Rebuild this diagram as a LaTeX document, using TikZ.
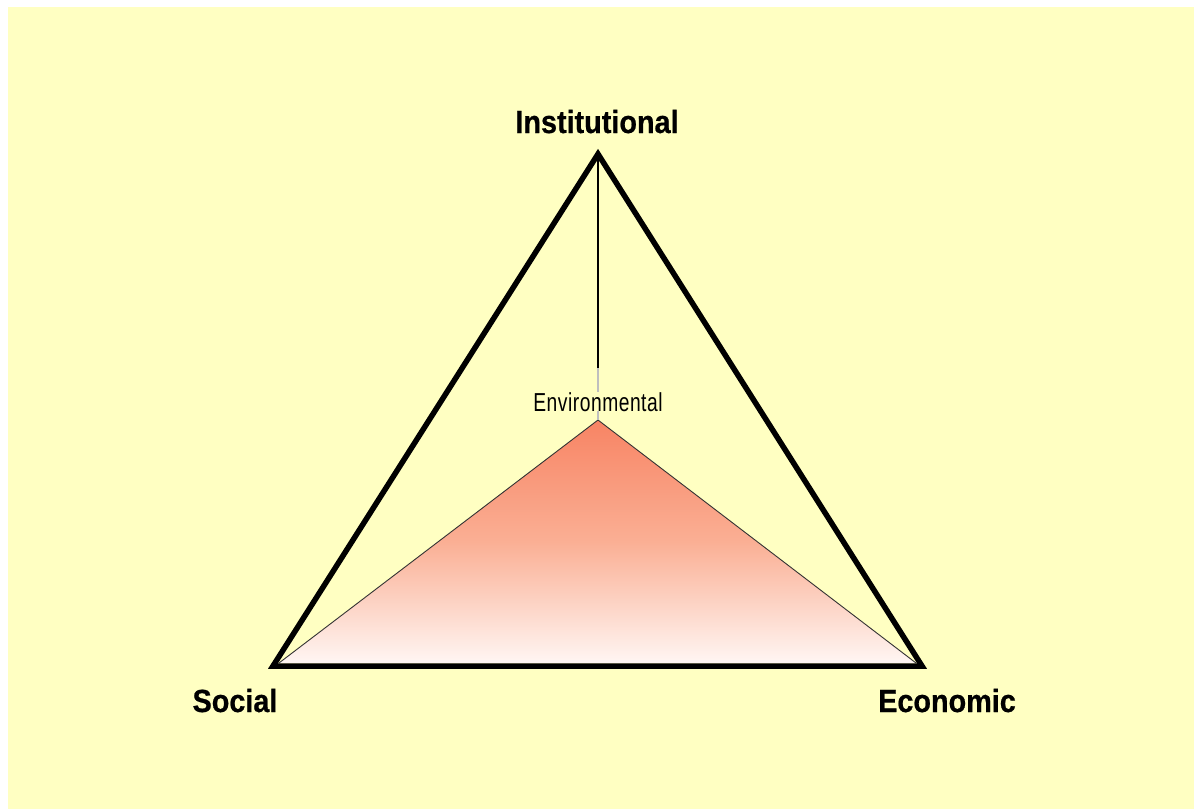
\documentclass[tikz,border=0pt]{standalone}
\usepackage{fontspec}
\newfontfamily\labelfont[FakeStretch=0.9,FakeBold=0.6]{Liberation Sans}
\newfontfamily\envfont[FakeStretch=0.74,LetterSpace=2]{Liberation Sans}
\definecolor{bgyellow}{RGB}{255,255,194}
\definecolor{salmon}{RGB}{248,132,100}
\definecolor{midpink}{RGB}{250,175,148}
\definecolor{palepink}{RGB}{255,246,243}
\begin{document}
\begin{tikzpicture}[x=1pt,y=-1pt,
  cornerlabel/.style={font=\labelfont\bfseries\fontsize{32}{32}\selectfont, anchor=base, inner sep=0pt},
  envlabel/.style={font=\envfont\fontsize{26}{26}\selectfont, anchor=base, inner sep=0pt},
  outer/.style={line width=5.5pt, line join=miter, draw=black},
  inner/.style={draw=black!80, line width=0.9pt}]
\useasboundingbox (0,0) rectangle (1194,809);
\fill[white] (0,0) rectangle (1194,809);
\fill[bgyellow] (8,7) rectangle (1194,809);
% coordinates
\coordinate (I) at (598,154);
\coordinate (S) at (273,666);
\coordinate (E) at (922,666);
\coordinate (EnvTop) at (598,420);
\coordinate (EnvL) at (279,663);
\coordinate (EnvR) at (916,663);
\coordinate (LineBreak) at (598,368);
% inner gradient triangle
\shade[top color=salmon, bottom color=palepink, middle color=midpink, shading angle=0]
  (EnvTop) -- (EnvR) -- (EnvL) -- cycle;
\draw[inner] (EnvL) -- (EnvTop) -- (EnvR);
% vertical line
\draw[line width=1.5pt, black] (I) -- (LineBreak);
\draw[line width=1.5pt, black!25] (LineBreak) -- (EnvTop);
% outer triangle
\draw[outer] (I) -- (E) -- (S) -- cycle;
% labels
\node[cornerlabel] (inst) at (597,133) {Institutional};
\node[cornerlabel] (soc) at (235,712) {Social};
\node[cornerlabel] (eco) at (947,712) {Economic};
\node[envlabel, fill=bgyellow, inner xsep=1pt] (env) at (598,411) {Environmental};
\end{tikzpicture}
\end{document}
